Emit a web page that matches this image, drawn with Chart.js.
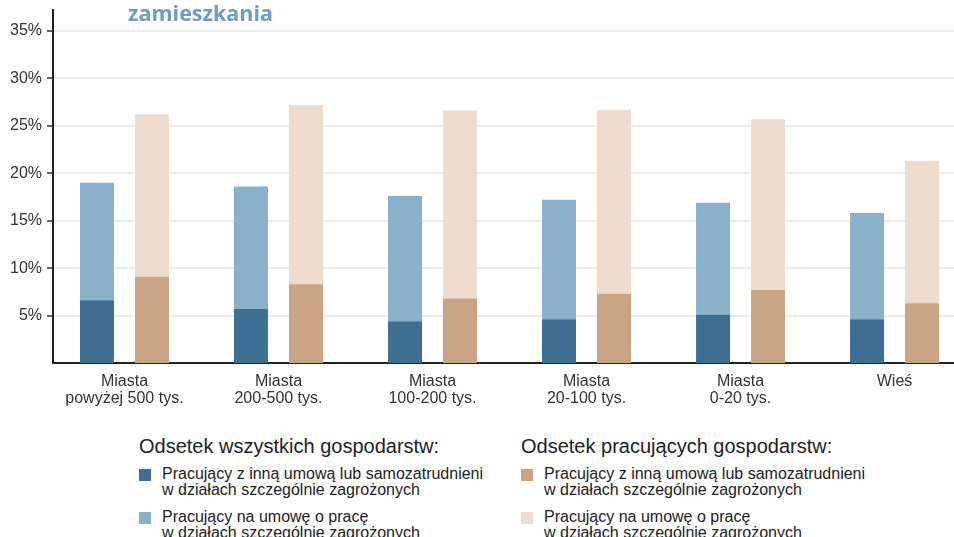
<!DOCTYPE html>
<html>
<head>
<meta charset="utf-8">
<script src="https://cdn.jsdelivr.net/npm/chart.js@4.4.0/dist/chart.umd.min.js"></script>
<style>
  body { margin: 0; width: 954px; height: 537px; overflow: hidden; background: #fff; font-family: "Liberation Sans", Arial, sans-serif; position: relative; }
  #wrap { position: absolute; left: 0; top: 0; width: 954px; height: 410px; }
  #title { position: absolute; left: 128px; top: -2px; font-family: "Open Sans", sans-serif; font-weight: 700; font-size: 21.5px; color: #6e9dc1; }
  .col { position: absolute; top: 435px; color: #222; }
  .col h3 { margin: 0 0 9px 0; font-weight: 400; font-size: 20px; line-height: 22px; }
  .item { position: relative; padding-left: 23px; font-size: 16px; line-height: 15.5px; margin-bottom: 12px; }
  .sw { position: absolute; left: 0; top: 3px; width: 12px; height: 12px; }
</style>
</head>
<body>
<div id="wrap"><canvas id="c" width="954" height="410"></canvas></div>
<div id="title">zamieszkania</div>
<div class="col" id="legLeft" style="left:139px"></div>
<div class="col" id="legRight" style="left:521px"></div>
<script>
// kategorie (miejsce zamieszkania)
const categories = [
    ['Miasta', 'powyżej 500 tys.'],
    ['Miasta', '200-500 tys.'],
    ['Miasta', '100-200 tys.'],
    ['Miasta', '20-100 tys.'],
    ['Miasta', '0-20 tys.'],
    ['Wieś']
];

// odsetek wszystkich gospodarstw (%)
const allOther = [6.6, 5.7, 4.4, 4.6, 5.1, 4.6];
const allContract = [12.4, 12.9, 13.2, 12.6, 11.8, 11.2];

// odsetek pracujących gospodarstw (%)
const workOther = [9.1, 8.3, 6.8, 7.3, 7.7, 6.3];
const workContract = [17.1, 18.9, 19.8, 19.4, 18.0, 15.0];

const yTicks = [5, 10, 15, 20, 25, 30, 35];

const legendHeaders = ['Odsetek wszystkich gospodarstw:', 'Odsetek pracujących gospodarstw:'];
const seriesLabels = [
    ['Pracujący z inną umową lub samozatrudnieni', 'w działach szczególnie zagrożonych'],
    ['Pracujący na umowę o pracę', 'w działach szczególnie zagrożonych']
];

const colors = {
    allOther: '#3e6f93',
    allContract: '#8ab0ca',
    workOther: '#c9a485',
    workContract: '#eddccd'
};

function toPoints(arr) {
    return arr.map((v, i) => ({ x: i, y: v }));
}

const ctx = document.getElementById('c').getContext('2d');
new Chart(ctx, {
    type: 'bar',
    data: {
        datasets: [
            { label: seriesLabels[0].join(' '), data: toPoints(allOther), backgroundColor: colors.allOther, stack: 'all' },
            { label: seriesLabels[1].join(' '), data: toPoints(allContract), backgroundColor: colors.allContract, stack: 'all' },
            { label: seriesLabels[0].join(' '), data: toPoints(workOther), backgroundColor: colors.workOther, stack: 'work' },
            { label: seriesLabels[1].join(' '), data: toPoints(workContract), backgroundColor: colors.workContract, stack: 'work' }
        ]
    },
    options: {
        responsive: false,
        animation: false,
        categoryPercentage: 0.714,
        barPercentage: 0.618,
        layout: { padding: { top: 10, right: 0, left: 0, bottom: 0 } },
        plugins: {
            legend: { display: false },
            tooltip: { enabled: false }
        },
        scales: {
            x: {
                type: 'linear',
                stacked: true,
                offset: false,
                min: -0.464,
                max: 5.386,
                afterBuildTicks: function(scale) {
                    scale.ticks = categories.map((c, i) => ({ value: i }));
                },
                afterFit: function(scale) {
                    scale.height = 47;
                },
                grid: { display: false, drawTicks: false },
                border: { display: true, color: '#222', width: 2 },
                ticks: {
                    padding: 10,
                    color: '#333',
                    font: { family: '"Liberation Sans", Arial, sans-serif', size: 16, lineHeight: 1.05 },
                    maxRotation: 0,
                    autoSkip: false,
                    callback: function(value) {
                        return categories[value];
                    }
                }
            },
            y: {
                stacked: true,
                min: 0,
                max: 37.2,
                afterBuildTicks: function(scale) {
                    scale.ticks = yTicks.map(v => ({ value: v }));
                },
                afterFit: function(scale) {
                    scale.width = 53;
                },
                grid: {
                    color: '#ebebeb',
                    lineWidth: 2,
                    tickColor: '#333',
                    tickLength: 6,
                    tickWidth: 1.5
                },
                border: { display: true, color: '#222', width: 2 },
                ticks: {
                    padding: 5,
                    color: '#333',
                    font: { family: '"Liberation Sans", Arial, sans-serif', size: 16, lineHeight: 0.6 },
                    callback: function(value) {
                        return value + '%';
                    }
                }
            }
        }
    }
});

// legenda
function buildLegend(el, header, swatches) {
    let html = '<h3>' + header + '</h3>';
    seriesLabels.forEach((lines, i) => {
        html += '<div class="item"><span class="sw" style="background:' + swatches[i] + '"></span>' + lines.join('<br>') + '</div>';
    });
    el.innerHTML = html;
}
buildLegend(document.getElementById('legLeft'), legendHeaders[0], [colors.allOther, colors.allContract]);
buildLegend(document.getElementById('legRight'), legendHeaders[1], [colors.workOther, colors.workContract]);
</script>
</body>
</html>
